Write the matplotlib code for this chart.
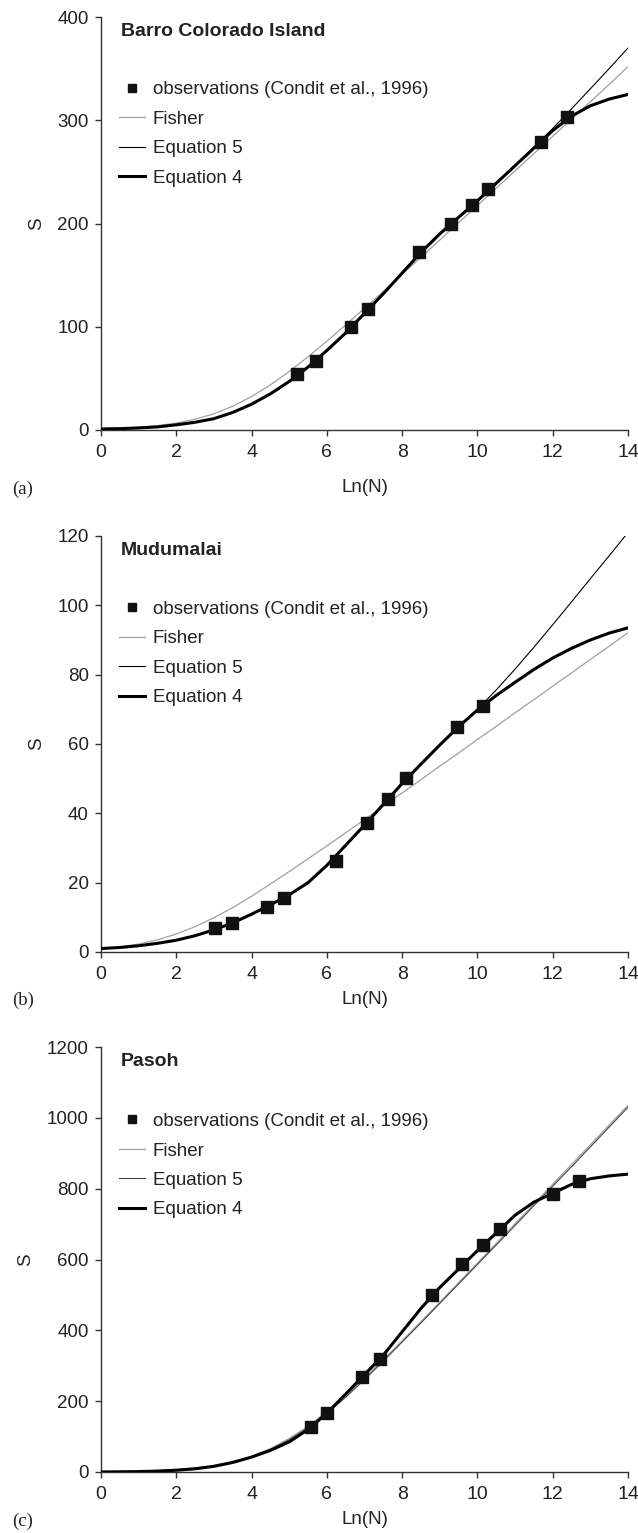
import matplotlib
matplotlib.use('Agg')
import matplotlib.pyplot as plt
import numpy as np

plt.rcParams['font.family'] = ['Liberation Sans', 'DejaVu Sans']

# Ln(N) sample points for the model curves
ln_n = [0, 0.5, 1, 1.5, 2, 2.5, 3, 3.5, 4, 4.5, 5, 5.5, 6, 6.5, 7,
        7.5, 8, 8.5, 9, 9.5, 10, 10.5, 11, 11.5, 12, 12.5, 13, 13.5, 14]

# (a) Barro Colorado Island
bci_obs_x = [5.22, 5.70, 6.63, 7.08, 8.45, 9.30, 9.85, 10.27, 11.68, 12.38]
bci_obs_s = [54, 67, 100, 117, 172, 200, 218, 233, 279, 303]
bci_fisher = [1.0, 1.6, 2.6, 4.2, 6.7, 10.4, 15.7, 23.0, 32.4, 43.7, 56.7, 70.9, 86.0, 101.8, 117.9,
              134.2, 150.7, 167.3, 184.0, 200.7, 217.4, 234.2, 250.9, 267.7, 284.4, 301.2, 317.9, 334.7, 352.0]
bci_eq5 = [1.0, 1.3, 2.0, 3.0, 5.0, 7.5, 11.0, 17.0, 25.0, 35.0, 47.0, 61.0, 77.0, 94.0, 113.0,
           132.0, 152.0, 171.0, 189.0, 205.5, 221.5, 238.5, 256.0, 274.0, 292.0, 311.0, 330.5, 350.0, 370.0]
bci_eq4 = [1.0, 1.3, 2.0, 3.0, 5.0, 7.5, 11.0, 17.0, 25.0, 35.0, 47.0, 61.0, 77.0, 94.0, 113.0,
           132.0, 152.0, 172.0, 190.0, 206.0, 222.0, 239.0, 256.0, 273.0, 290.0, 304.0, 314.0, 320.5, 325.0]

# (b) Mudumalai
mud_obs_x = [3.02, 3.49, 4.41, 4.86, 6.24, 7.06, 7.63, 8.09, 9.47, 10.15]
mud_obs_s = [6.8, 8.4, 13.1, 15.7, 26.2, 37.2, 44.2, 50.3, 64.8, 70.9]
mud_fisher = [0.9, 1.5, 2.3, 3.5, 5.2, 7.3, 9.9, 12.8, 16.1, 19.6, 23.2, 26.9, 30.6, 34.4, 38.2,
              42.1, 45.9, 49.7, 53.6, 57.4, 61.3, 65.1, 69.0, 72.8, 76.7, 80.5, 84.4, 88.2, 92.1]
mud_eq5 = [1.0, 1.3, 1.8, 2.5, 3.4, 4.7, 6.4, 8.4, 10.9, 13.6, 16.5, 20.0, 25.0, 30.8, 36.6,
           42.6, 48.6, 54.2, 59.7, 65.0, 70.0, 75.6, 81.6, 87.9, 94.4, 101.0, 107.7, 114.3, 121.0]
mud_eq4 = [1.0, 1.3, 1.8, 2.5, 3.4, 4.7, 6.4, 8.4, 10.9, 13.6, 16.5, 20.0, 25.0, 30.8, 36.6,
           42.6, 48.6, 54.2, 59.7, 65.0, 69.8, 74.0, 77.8, 81.5, 84.8, 87.6, 90.0, 92.0, 93.5]

# (c) Pasoh
pas_obs_x = [5.59, 6.00, 6.93, 7.41, 8.80, 9.59, 10.15, 10.61, 12.00, 12.69]
pas_obs_s = [127, 166, 267, 320, 499, 586, 640, 686, 786, 821]
pas_fisher = [1.0, 1.6, 2.7, 4.4, 7.2, 11.6, 18.5, 29.0, 44.4, 66.0, 94.4, 129.5, 170.6, 216.4, 265.7,
              317.3, 370.5, 424.6, 479.4, 534.5, 589.9, 645.5, 701.1, 756.7, 812.5, 868.2, 923.9, 979.7, 1035.4]
pas_eq5 = [0.5, 1.0, 2.0, 3.5, 6.0, 10.5, 17.5, 28.0, 43.0, 64.0, 91.0, 125.0, 165.0, 211.0, 261.0,
           313.0, 367.0, 421.0, 476.0, 531.0, 586.0, 641.0, 696.0, 752.0, 807.0, 862.0, 918.0, 974.0, 1030.0]
pas_eq4 = [0.2, 0.5, 1.2, 2.5, 5.0, 9.0, 16.0, 27.0, 42.0, 61.0, 85.0, 120.0, 166.0, 220.0, 275.0,
           330.0, 396.0, 462.0, 521.0, 573.0, 625.0, 675.0, 725.0, 762.0, 787.0, 812.0, 828.0, 836.0, 841.0]

fig = plt.figure(figsize=(6.38, 15.33), dpi=100)

W, H = 638.0, 1533.0
FS = 13.5
TXT = '#222222'


def panel(top, bottom, ymax, ystep, title, letter, obs_x, obs_s, fisher, eq5, eq4,
          xlab_y, letter_y, eq5_color):
    ax = fig.add_axes([101 / W, 1 - bottom / H, 527 / W, (bottom - top) / H])
    ax.plot(ln_n, fisher, color='#a0a0a0', lw=0.9, label='Fisher', zorder=2)
    ax.plot(ln_n, eq5, color=eq5_color, lw=0.8, label='Equation 5', zorder=3)
    ax.plot(ln_n, eq4, color='black', lw=2.2, label='Equation 4', zorder=4)
    ax.plot(obs_x, obs_s, 's', color='#111111', ms=8.5, ls='none',
            label='observations (Condit et al., 1996)', zorder=5)

    ax.set_xlim(0, 14)
    ax.set_ylim(0, ymax)
    ax.set_xticks(range(0, 15, 2))
    ax.set_yticks(np.arange(0, ymax + 1, ystep))
    for s in ['top', 'right']:
        ax.spines[s].set_visible(False)
    for s in ['left', 'bottom']:
        ax.spines[s].set_color('#333333')
        ax.spines[s].set_linewidth(1.0)
    ax.tick_params(axis='x', direction='out', length=4.3, width=1, color='#333333',
                   labelsize=14, labelcolor=TXT, pad=5.5)
    ax.tick_params(axis='y', direction='out', length=4.3, width=1, color='#333333',
                   labelsize=FS, labelcolor=TXT, pad=4.5)

    ax.set_ylabel('S', fontsize=FS, color=TXT, labelpad=9)
    ax.set_xlabel('Ln(N)', fontsize=FS, color=TXT, va='center')
    ax.xaxis.set_label_coords(0.5, -(xlab_y - bottom) / (bottom - top))

    ax.text(0.038, 0.965, title, transform=ax.transAxes, fontsize=14, fontweight='bold',
            color=TXT, ha='left', va='center')

    h, l = ax.get_legend_handles_labels()
    order = [3, 0, 1, 2]
    ax.legend([h[i] for i in order], [l[i] for i in order], loc='upper left',
              bbox_to_anchor=(0.034, 0.845), frameon=False, fontsize=FS,
              borderpad=0, borderaxespad=0, handlelength=1.4, handletextpad=0.4,
              labelspacing=0.66, markerscale=0.75, labelcolor=TXT)

    fig.text(12 / W, 1 - letter_y / H, letter, fontsize=FS, color=TXT,
             family=['Liberation Serif', 'DejaVu Serif'], ha='left', va='center')
    return ax


panel(17, 430, 400, 100, 'Barro Colorado Island', '(a)',
      bci_obs_x, bci_obs_s, bci_fisher, bci_eq5, bci_eq4, 488, 489, 'black')
panel(536, 952, 120, 20, 'Mudumalai', '(b)',
      mud_obs_x, mud_obs_s, mud_fisher, mud_eq5, mud_eq4, 999, 1000, 'black')
panel(1047, 1472, 1200, 200, 'Pasoh', '(c)',
      pas_obs_x, pas_obs_s, pas_fisher, pas_eq5, pas_eq4, 1519, 1521, '#444444')

fig.savefig('out.png', dpi=100)
